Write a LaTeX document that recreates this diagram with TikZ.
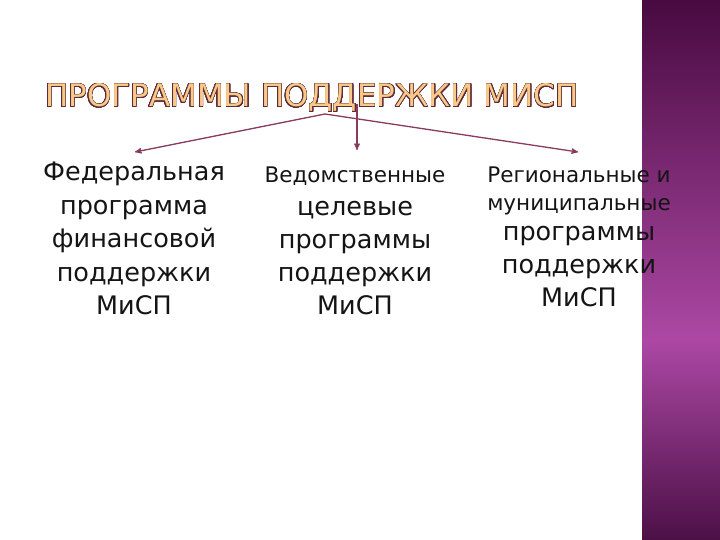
\documentclass[tikz,border=0pt]{standalone}
\usepackage{fontspec}
\setmainfont{DejaVu Sans}
\usepackage{contour}
\usetikzlibrary{arrows}
\definecolor{plum}{HTML}{8A3A5E}
\definecolor{titleline}{HTML}{5E2A36}
\definecolor{titlefill}{HTML}{F9C98A}
\definecolor{striptop}{HTML}{480A40}
\definecolor{stripmid}{HTML}{AC48A4}
\definecolor{stripbot}{HTML}{4C1047}
\contourlength{0.5pt}
\contournumber{32}

\begin{document}
\begin{tikzpicture}[x=1pt,y=-1pt,
    arr/.style={-stealth',color=plum,line width=1.3pt},
    col/.style={align=center,inner sep=0pt,anchor=north,text=black!92,
      font=\fontsize{25.5}{33}\selectfont}]
  \useasboundingbox (0,0) rectangle (720,540);
  % purple strip on the right
  \begin{scope}[y=1pt]
    \shade[top color=striptop,bottom color=stripmid] (642,0) rectangle (720,-340);
    \shade[top color=stripmid,bottom color=stripbot] (642,-339.5) rectangle (720,-540);
  \end{scope}
  % heading
  \node[anchor=base,inner sep=0pt] (title) at (312,107)
    {\fontsize{31}{36}\selectfont\color{titlefill}\contour{titleline}{ПРОГРАММЫ ПОДДЕРЖКИ МИСП}};
  % the three kinds of programmes
  \node[col,font=\fontsize{25.5}{33.5}\selectfont] (fed) at (134,162) {Федеральная\\программа\\финансовой\\поддержки\\МиСП};
  \node[col] (ved) at (355,167) {{\fontsize{21.5}{33}\selectfont Ведомственные}\\целевые\\программы\\поддержки\\МиСП};
  \node[col] (reg) at (579,167) {{\fontsize{21.5}{33}\selectfont Региональные и}\\[-5pt]
    {\fontsize{21.5}{33}\selectfont муниципальные}\\[-3pt]программы\\поддержки\\МиСП};
  % arrows
  \coordinate (fork) at (325,114);
  \coordinate (vtop) at (357,104);
  \coordinate (fedtip) at (135,152);
  \coordinate (vedtip) at (357,150);
  \coordinate (regtip) at (578,152);
  \draw[arr] (fork) -- (fedtip);
  \draw[arr] (fork) -- (regtip);
  \draw[arr] (vtop) -- (vedtip);
\end{tikzpicture}
\end{document}
